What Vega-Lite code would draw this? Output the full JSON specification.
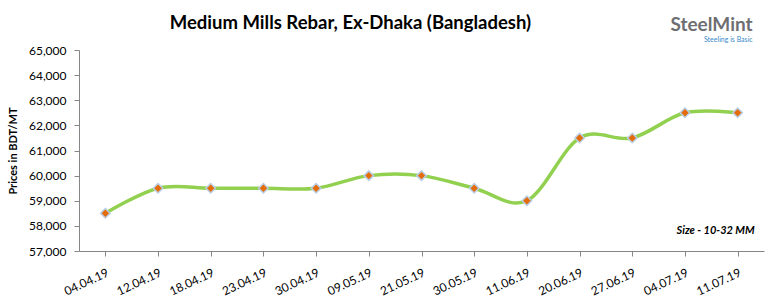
{
  "$schema": "https://vega.github.io/schema/vega-lite/v6.json",
  "width": 685,
  "height": 201,
  "autosize": {"type": "none"},
  "padding": {"left": 79, "top": 50, "right": 7, "bottom": 57},
  "background": "white",
  "config": {
    "view": {"stroke": null},
    "font": "Lato",
    "axisX": {
      "labelAngle": -25,
      "labelAlign": "right",
      "labelBaseline": "top",
      "labelPadding": 11,
      "labelFontSize": 12,
      "labelColor": "black",
      "tickSize": 5,
      "tickColor": "#868686",
      "domainColor": "#868686",
      "grid": false
    },
    "axisY": {
      "titleFontSize": 11,
      "titleFontWeight": "bold",
      "titleColor": "black",
      "titlePadding": 10,
      "labelFontSize": 12,
      "labelColor": "black",
      "labelPadding": 8,
      "labelOverlap": false,
      "tickSize": 5,
      "tickColor": "#868686",
      "domainColor": "#868686",
      "grid": false
    }
  },
  "title": {
    "text": "Medium Mills Rebar, Ex-Dhaka (Bangladesh)",
    "font": "Lato",
    "fontSize": 18.5,
    "fontWeight": "bold",
    "color": "black",
    "anchor": "middle",
    "dx": -71,
    "offset": -17
  },
  "datasets": {
    "prices": [
      {"date": "04.04.19", "price": 58500},
      {"date": "12.04.19", "price": 59500},
      {"date": "18.04.19", "price": 59500},
      {"date": "23.04.19", "price": 59500},
      {"date": "30.04.19", "price": 59500},
      {"date": "09.05.19", "price": 60000},
      {"date": "21.05.19", "price": 60000},
      {"date": "30.05.19", "price": 59500},
      {"date": "11.06.19", "price": 59000},
      {"date": "20.06.19", "price": 61500},
      {"date": "27.06.19", "price": 61500},
      {"date": "04.07.19", "price": 62500},
      {"date": "11.07.19", "price": 62500}
    ],
    "notes": [{"t": "Size - 10-32 MM"}],
    "logo": [{"t": "SteelMint"}],
    "tagline": [{"t": "Steeling is Basic"}]
  },
  "layer": [
    {
      "data": {"name": "prices"},
      "mark": {"type": "line", "interpolate": "cardinal", "tension": 0, "color": "#92D050", "strokeWidth": 3.5},
      "encoding": {
        "x": {
          "field": "date",
          "type": "ordinal",
          "sort": null,
          "scale": {"type": "point", "padding": 0.5},
          "axis": {"title": null}
        },
        "y": {
          "field": "price",
          "type": "quantitative",
          "scale": {"domain": [57000, 65000], "zero": false, "nice": false},
          "axis": {"title": "Prices in BDT/MT", "format": ",.0f", "values": [57000, 58000, 59000, 60000, 61000, 62000, 63000, 64000, 65000]}
        }
      }
    },
    {
      "data": {"name": "prices"},
      "mark": {"type": "point", "shape": "diamond", "filled": true, "fill": "#E46C0A", "stroke": "#B9CDE5", "strokeWidth": 1.5, "size": 90, "opacity": 1},
      "encoding": {
        "x": {"field": "date", "type": "ordinal", "sort": null, "axis": {"title": null}},
        "y": {"field": "price", "type": "quantitative", "axis": {"title": "Prices in BDT/MT", "format": ",.0f", "values": [57000, 58000, 59000, 60000, 61000, 62000, 63000, 64000, 65000]}}
      }
    },
    {
      "data": {"name": "notes"},
      "mark": {"type": "text", "align": "right", "baseline": "middle", "dx": 17, "fontSize": 11, "fontWeight": "bold", "fontStyle": "italic", "fill": "black"},
      "encoding": {
        "x": {"datum": "11.07.19", "axis": {"title": null}},
        "y": {"datum": 57800, "axis": {"title": "Prices in BDT/MT", "format": ",.0f", "values": [57000, 58000, 59000, 60000, 61000, 62000, 63000, 64000, 65000]}},
        "text": {"field": "t"}
      }
    },
    {
      "data": {"name": "logo"},
      "mark": {"type": "text", "align": "right", "baseline": "alphabetic", "dx": 15, "fontSize": 19, "fontWeight": "bold", "fill": "#6D6E71"},
      "encoding": {
        "x": {"datum": "11.07.19", "axis": {"title": null}},
        "y": {"datum": 65760, "axis": {"title": "Prices in BDT/MT", "format": ",.0f", "values": [57000, 58000, 59000, 60000, 61000, 62000, 63000, 64000, 65000]}},
        "text": {"field": "t"}
      }
    },
    {
      "data": {"name": "tagline"},
      "mark": {"type": "text", "align": "right", "baseline": "alphabetic", "dx": 15, "fontSize": 7, "fill": "#3A8AC8"},
      "encoding": {
        "x": {"datum": "11.07.19", "axis": {"title": null}},
        "y": {"datum": 65300, "axis": {"title": "Prices in BDT/MT", "format": ",.0f", "values": [57000, 58000, 59000, 60000, 61000, 62000, 63000, 64000, 65000]}},
        "text": {"field": "t"}
      }
    }
  ]
}
